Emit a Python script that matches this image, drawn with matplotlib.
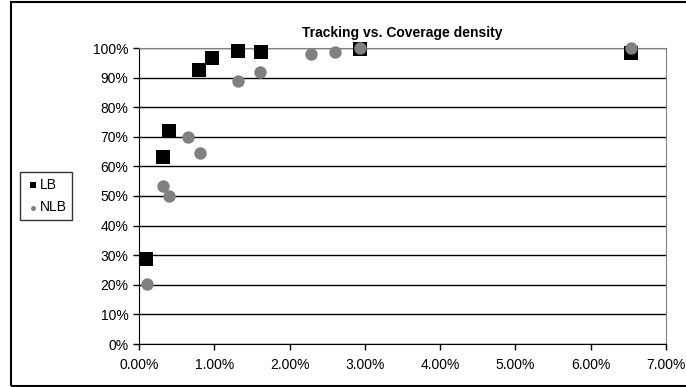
import matplotlib.pyplot as plt
from matplotlib.patches import Rectangle
from matplotlib.ticker import PercentFormatter

plt.rcParams['font.family'] = ['Liberation Sans', 'DejaVu Sans']

# coverage density (%) and tracking (%)
lb_x = [0.09, 0.32, 0.40, 0.80, 0.97, 1.31, 1.62, 2.94, 6.53]
lb_y = [28.8, 63.3, 72.1, 92.6, 96.5, 99.1, 98.8, 99.6, 98.2]

nlb_x = [0.10, 0.32, 0.40, 0.65, 0.81, 1.31, 1.61, 2.28, 2.60, 2.94, 6.53]
nlb_y = [20.2, 53.5, 50.0, 70.0, 64.6, 89.0, 91.8, 98.0, 98.8, 99.9, 100.0]

fig = plt.figure(figsize=(6.86, 3.87), dpi=100)
ax = fig.add_axes([139 / 686, 1 - 344 / 387, 527 / 686, 296 / 387])

ax.scatter(lb_x, lb_y, marker='s', s=100, color='black', label='LB',
           zorder=3, clip_on=False, linewidths=0)
ax.scatter(nlb_x, nlb_y, marker='o', s=80, color='#808080', label='NLB',
           zorder=4, clip_on=False, linewidths=0)

ax.set_xlim(0, 7)
ax.set_ylim(0, 100)
ax.set_xticks(range(0, 8))
ax.set_yticks(range(0, 101, 10))
ax.xaxis.set_major_formatter(PercentFormatter(decimals=2))
ax.yaxis.set_major_formatter(PercentFormatter(decimals=0))
ax.tick_params(labelsize=10, length=4, width=1, color='black')
ax.tick_params(axis='x', pad=6)

ax.yaxis.grid(True, color='black', linewidth=1)
ax.set_axisbelow(True)
for side in ['top', 'right']:
    ax.spines[side].set_color('#808080')
for side in ['left', 'bottom']:
    ax.spines[side].set_color('black')

ax.set_title('Tracking vs. Coverage density', fontsize=10, fontweight='bold', pad=8)

leg = fig.legend(loc='center left', bbox_to_anchor=(20 / 686, 1 - 196 / 387),
                 fontsize=10, frameon=True, fancybox=False, edgecolor='black',
                 handletextpad=0.0, borderpad=0.4, labelspacing=0.6,
                 handlelength=1.0, markerscale=0.4, borderaxespad=0)
leg.get_frame().set_linewidth(1)

# outer chart frame
fig.patches.append(Rectangle((11 / 686, 1 / 387), 1.1, 384 / 387,
                             transform=fig.transFigure, fill=False,
                             edgecolor='black', linewidth=1.5))

fig.savefig('out.png', dpi=100)
